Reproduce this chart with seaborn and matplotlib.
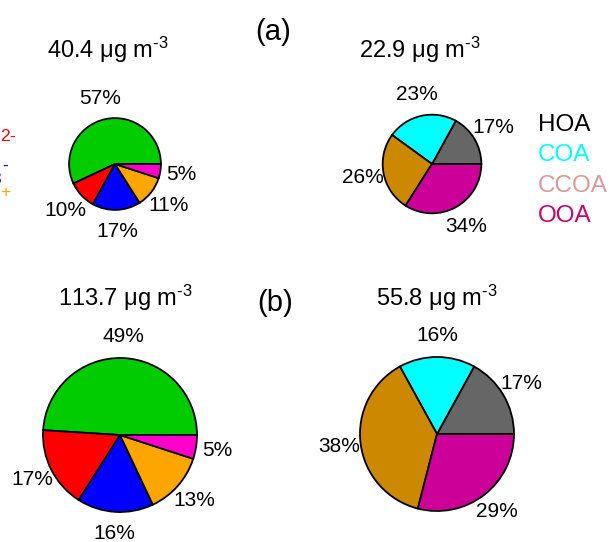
import matplotlib
matplotlib.use("Agg")
import matplotlib.pyplot as plt
import seaborn as sns
import numpy as np

# species fractions (%) and total mass (ug m-3)
inorg_names = ["Org", "SO4", "NO3", "NH4", "Chl"]
inorg_colors = ["#00CC00", "#FF0000", "#0000FF", "#FFA500", "#FF00CC"]
inorg_a = [57, 10, 17, 11, 5]
inorg_b = [49, 17, 16, 13, 5]
total_inorg = [40.4, 113.7]

oa_names = ["HOA", "COA", "CCOA", "OOA"]
oa_colors = ["#666666", "#00FFFF", "#CC8800", "#CC0099"]
oa_legend_colors = ["#000000", "#00FFFF", "#D99A98", "#CC0066"]
oa_a = [17, 23, 26, 34]
oa_b = [17, 16, 38, 29]
total_oa = [22.9, 55.8]

sns.set_theme(style="white")
plt.rcParams["font.family"] = ["Liberation Sans", "DejaVu Sans"]
plt.rcParams["text.color"] = "black"
plt.rcParams["mathtext.fontset"] = "custom"
plt.rcParams["mathtext.rm"] = "Liberation Sans"
plt.rcParams["mathtext.it"] = "Liberation Sans:italic"

W, H = 612, 542
fig = plt.figure(figsize=(W / 100, H / 100), dpi=100)


def pie_at(cx, cy, vals, cols, radius):
    ax = fig.add_axes([(cx - 100) / W, 1 - (cy + 100) / H, 200 / W, 200 / H])
    ax.pie(vals, colors=cols, radius=radius, startangle=0, counterclock=True,
           autopct=lambda p: f"{p:.0f}%", pctdistance=1 + 0.215 / radius,
           wedgeprops=dict(edgecolor="black", linewidth=1.3),
           textprops=dict(fontsize=15, color="black"))
    ax.set_xlim(-1, 1)
    ax.set_ylim(-1, 1)
    ax.axis("off")


rb = 0.77
pie_at(115, 164, inorg_a, inorg_colors, rb * np.sqrt(total_inorg[0] / total_inorg[1]))
pie_at(432, 164, oa_a, oa_colors, rb * np.sqrt(total_oa[0] / total_oa[1]))
pie_at(120, 435, inorg_b, inorg_colors, rb)
pie_at(437, 434, oa_b, oa_colors, rb)


def ftext(x, y, s, **kw):
    fig.text(x / W, 1 - y / H, s, **kw)


HY = "\u2010"  # short hyphen for the superscripts
unit = "μg m$^{" + HY + "3}$"
ftext(108, 50, f"{total_inorg[0]} {unit}", fontsize=17, ha="center", va="center")
ftext(420, 50, f"{total_oa[0]} {unit}", fontsize=17, ha="center", va="center")
ftext(125, 298, f"{total_inorg[1]} {unit}", fontsize=17, ha="center", va="center")
ftext(437, 298, f"{total_oa[1]} {unit}", fontsize=17, ha="center", va="center")
ftext(273, 32, "(a)", fontsize=21, ha="center", va="center")
ftext(275, 303, "(b)", fontsize=21, ha="center", va="center")

# OA legend
for i, (n, c) in enumerate(zip(oa_names, oa_legend_colors)):
    ftext(538, 125 + 30.5 * i, n, fontsize=17.5, color=c, ha="left", va="center")

# inorganic legend (mostly cut off at the left edge)
ftext(17, 143, "SO$_4$$^{2" + HY + "}$", fontsize=18, color=inorg_colors[1], ha="right", va="center")
ftext(9, 174, "NO$_3$$^{" + HY + "}$", fontsize=18, color=inorg_colors[2], ha="right", va="center")
ftext(11, 200, "NH$_4$$^{+}$", fontsize=18, color=inorg_colors[3], ha="right", va="center")

fig.savefig("out.png", dpi=100)
